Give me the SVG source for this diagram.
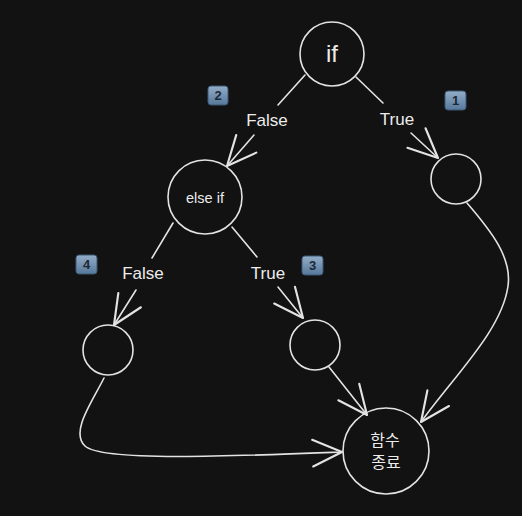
<svg xmlns="http://www.w3.org/2000/svg" width="522" height="516" viewBox="0 0 522 516">
<defs>
<linearGradient id="bg" x1="0" y1="0" x2="0" y2="1">
<stop offset="0" stop-color="#93adc8"/>
<stop offset="1" stop-color="#56789b"/>
</linearGradient>
<marker id="ah" markerUnits="userSpaceOnUse" markerWidth="40" markerHeight="40" refX="0" refY="0" viewBox="-25 -15 30 30" orient="auto" overflow="visible">
<path d="M-22,-10 L0,0 L-22,10" fill="none" stroke="#e3e3e3" stroke-width="1.6" stroke-linecap="round" stroke-linejoin="round"/>
</marker>
<style>
.n{fill:none;stroke:#e3e3e3;stroke-width:1.6}
.c{fill:none;stroke:#e3e3e3;stroke-width:1.6;stroke-linecap:round}
.a{marker-end:url(#ah)}
.t{font-family:"Liberation Sans",Arial,sans-serif;fill:#ececec;text-anchor:middle}
.k{font-family:"Noto Sans CJK KR","Noto Sans",sans-serif;fill:#ececec;text-anchor:middle;font-size:16px}
.b rect{fill:url(#bg);stroke:#3d5875;stroke-width:1}
.b text{font-family:"Liberation Sans",Arial,sans-serif;font-weight:bold;font-size:13px;fill:#1c2836;text-anchor:middle}
</style>
</defs>
<rect width="522" height="516" fill="#121212"/>
<g id="connectors">
<path class="c" d="M305,75 L278,105"/>
<path class="c a" d="M254,135 L227,166"/>
<path class="c" d="M356,77 L383,103"/>
<path class="c a" d="M411,133 L438,158"/>
<path class="c" d="M173,223 L152,258"/>
<path class="c a" d="M136,290 L114,325"/>
<path class="c" d="M232,227 L257,257"/>
<path class="c a" d="M278,287 L303,318"/>
<path class="c a" d="M329,367 L367,415"/>
<path class="c a" d="M467,203 C492,232 512,258 508,286 C502,330 455,375 421,422"/>
<path class="c a" d="M104,378 C92,402 70,432 85,446 C102,462 240,456 342,452"/>
</g>
<g id="labels">
<text class="t" x="267" y="126" font-size="17">False</text>
<text class="t" x="397" y="125" font-size="17">True</text>
<text class="t" x="143" y="279" font-size="17">False</text>
<text class="t" x="268" y="279" font-size="17">True</text>
</g>
<g id="node-if"><circle class="n" cx="332" cy="54" r="32"/><text class="t" x="332" y="62" font-size="24">if</text></g>
<g id="node-elseif"><circle class="n" cx="205" cy="197" r="37"/><text class="t" x="205" y="203" font-size="14.5">else if</text></g>
<g id="node-true1"><circle class="n" cx="456" cy="179" r="25"/></g>
<g id="node-false2"><circle class="n" cx="108" cy="350" r="25"/></g>
<g id="node-true3"><circle class="n" cx="315" cy="345" r="25"/></g>
<g id="node-end"><circle class="n" cx="386" cy="451" r="43"/><text class="k" x="385" y="446">함수</text><text class="k" x="386" y="468">종료</text></g>
<g id="badge-1" class="b"><rect x="445" y="91" width="21" height="19" rx="3"/><text x="455.5" y="105">1</text></g>
<g id="badge-2" class="b"><rect x="208" y="86" width="20" height="19" rx="3"/><text x="218" y="100">2</text></g>
<g id="badge-3" class="b"><rect x="302" y="256" width="21" height="19" rx="3"/><text x="312.5" y="270">3</text></g>
<g id="badge-4" class="b"><rect x="76" y="255" width="21" height="19" rx="3"/><text x="86.5" y="269">4</text></g>
</svg>
